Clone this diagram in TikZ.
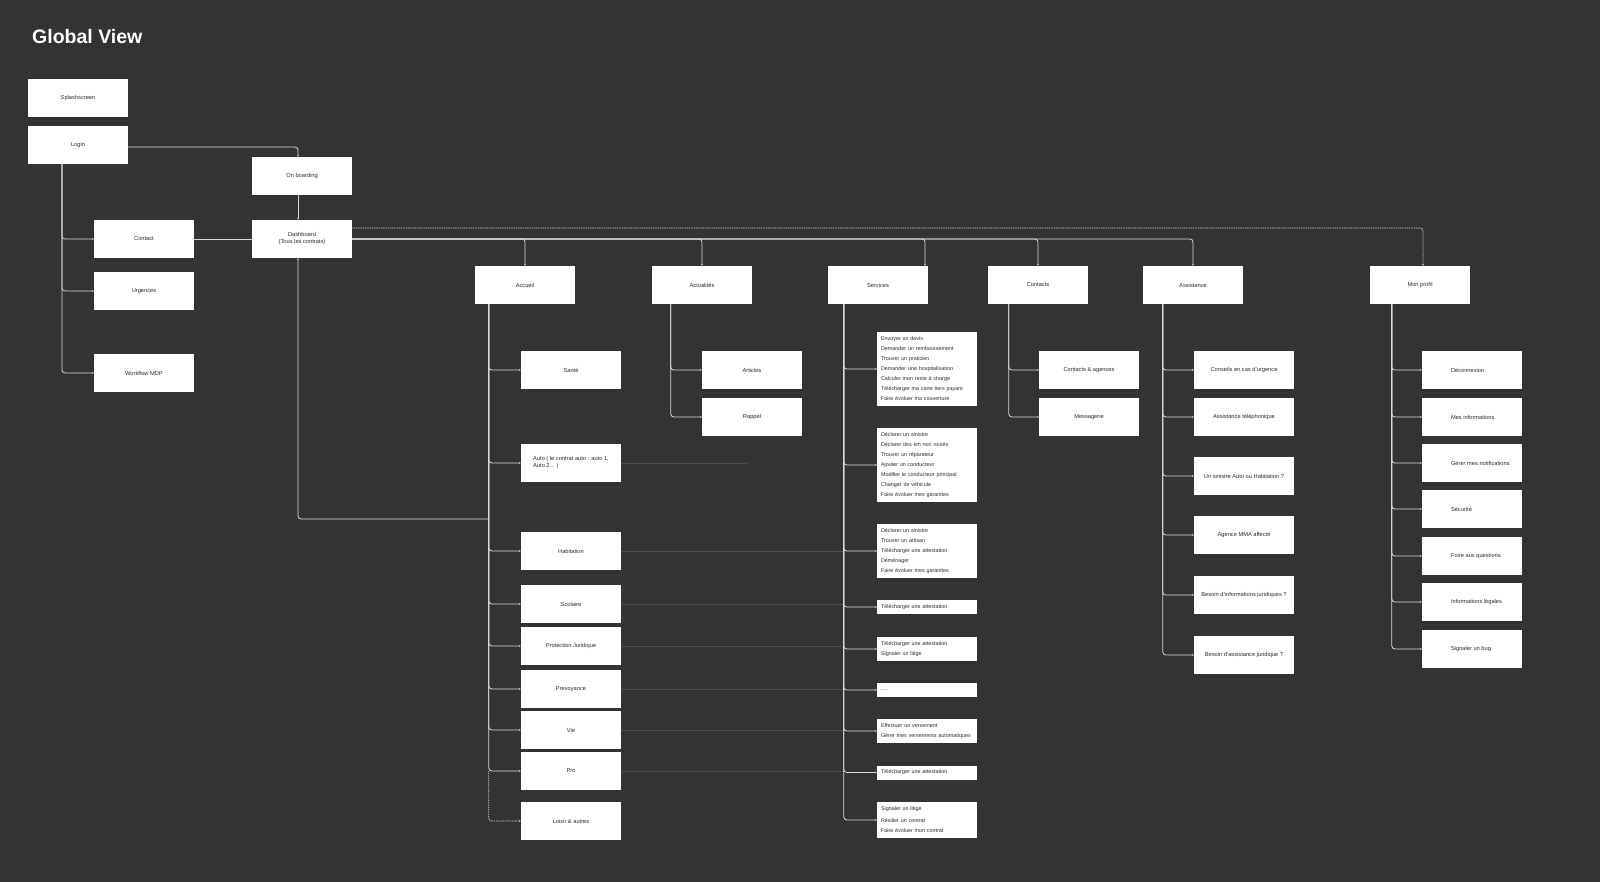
\documentclass[tikz,border=0pt]{standalone}
\usepackage{fontspec}
\setmainfont{Liberation Sans}
\usetikzlibrary{arrows.meta,calc}
\definecolor{bg}{HTML}{333333}
\definecolor{ln}{HTML}{DADADA}
\definecolor{faint}{HTML}{4D4D4D}
\definecolor{txt}{HTML}{2A2A2A}
\newcommand{\pleft}[1]{\makebox[42pt][l]{#1}}
\tikzset{
 box/.style={fill=white,draw=none,minimum width=100pt,minimum height=38pt,inner sep=0pt,font=\fontsize{5.7}{7}\selectfont,text=txt,align=center},
 sublist/.style={fill=white,draw=none,text width=92pt,inner xsep=4pt,inner ysep=0pt,minimum height=#1,font=\fontsize{5.4}{10}\selectfont,text=txt,align=left},
 conn/.style={draw=ln,line width=0.8pt,rounded corners=3pt,-{Latex[length=1.5pt,width=2pt]}},
 dconn/.style={conn,dash pattern=on 1pt off 0.8pt},
 faintln/.style={draw=faint,line width=0.6pt},
}
\begin{document}
\begin{tikzpicture}[x=1pt,y=-1pt]
\path[fill=bg] (0,0) rectangle (1600,882);
\node[anchor=west,text=white,inner sep=0pt,font=\fontsize{19.5}{22}\selectfont\bfseries] (title) at (32,37) {Global View};

% left column
\node[box] (splash) at (78,98) {Splashscreen};
\node[box] (login) at (78,145) {Login};
\node[box] (onb) at (302,176) {On boarding};
\node[box] (dash) at (302,239) {Dashboard\\(Tous les contrats)};
\node[box] (contact) at (144,239) {Contact};
\node[box] (urg) at (144,291) {Urgences};
\node[box] (wmdp) at (144,373) {Workflow MDP};

% top level
\node[box] (accueil) at (525,285) {Accueil};
\node[box] (actu) at (702,285) {Actualités};
\node[box] (serv) at (878,285) {Services};
\node[box] (cont) at (1038,285) {Contacts};
\node[box] (assist) at (1193,285) {Assistance};
\node[box] (profil) at (1420,285) {Mon profil};

% accueil children
\node[box] (sante) at (571,370) {Santé};
\node[box,align=left] (auto) at (571,463) {Auto ( le contrat auto : auto 1,\\Auto 2... )};
\node[box] (habit) at (571,551) {Habitation};
\node[box] (scol) at (571,604) {Scolaire};
\node[box] (pj) at (571,646) {Protection Juridique};
\node[box] (prev) at (571,689) {Prevoyance};
\node[box] (vie) at (571,730) {Vie};
\node[box] (pro) at (571,771) {Pro};
\node[box] (loisir) at (571,821) {Loisir \& autres};

% actualites children
\node[box] (articles) at (752,370) {Articles};
\node[box] (rappel) at (752,417) {Rappel};

% services children
\node[sublist=74pt] (s1) at (927,369) {Envoyer un devis\\Demander un remboursement\\Trouver un praticien\\Demander une hospitalisation\\Calculer mon reste à charge\\Télécharger ma carte tiers payant\\Faire évoluer ma couverture};
\node[sublist=74pt] (s2) at (927,465) {Déclarer un sinistre\\Déclarer des km non roulés\\Trouver un réparateur\\Ajouter un conducteur\\Modifier le conducteur principal\\Changer de véhicule\\Faire évoluer mes garanties};
\node[sublist=54pt] (s3) at (927,551) {Déclarer un sinistre\\Trouver un artisan\\Télécharger une attestation\\Déménager\\Faire évoluer mes garanties};
\node[sublist=14pt] (s4) at (927,607) {Télécharger une attestation};
\node[sublist=24pt] (s5) at (927,649) {Télécharger une attestation\\Signaler un litige};
\node[sublist=14pt] (s6) at (927,690) {....};
\node[sublist=24pt] (s7) at (927,731) {Effectuer un versement\\Gérer mes versements automatiques};
\node[sublist=14pt] (s8) at (927,772.5) {Télécharger une attestation};
\node[sublist=36pt] (s9) at (927,820) {Signaler un litige\\[2pt]Résilier un contrat\\Faire évoluer mon contrat};

% contacts children
\node[box] (ca) at (1089,370) {Contacts \& agences};
\node[box] (msg) at (1089,417) {Messagerie};

% assistance children
\node[box] (a1) at (1244,370) {Conseils en cas d'urgence};
\node[box] (a2) at (1244,417) {Assistance téléphonique};
\node[box] (a3) at (1244,476) {Un sinistre Auto ou Habitation ?};
\node[box] (a4) at (1244,535) {Agence MMA affecté};
\node[box] (a5) at (1244,595) {Besoin d'informations juridiques ?};
\node[box] (a6) at (1244,655) {Besoin d'assistance juridique ?};

% profil children
\node[box] (p1) at (1472,370) {\pleft{Déconnexion}};
\node[box] (p2) at (1472,417) {\pleft{Mes informations}};
\node[box] (p3) at (1472,463) {\pleft{Gérer mes notifications}};
\node[box] (p4) at (1472,509) {\pleft{Sécurité}};
\node[box] (p5) at (1472,556) {\pleft{Foire aux questions}};
\node[box] (p6) at (1472,602) {\pleft{Informations légales}};
\node[box] (p7) at (1472,649) {\pleft{Signaler un bug}};

% trunk coordinates
\coordinate (ltr) at ([xshift=-16pt]login.south);
\coordinate (atr) at ([xshift=14pt]accueil.south west);
\coordinate (actr) at ([xshift=19pt]actu.south west);
\coordinate (str) at ([xshift=16pt]serv.south west);
\coordinate (ctr) at ([xshift=21pt]cont.south west);
\coordinate (astr) at ([xshift=20pt]assist.south west);
\coordinate (ptr) at ([xshift=22pt]profil.south west);
\coordinate (dj) at (489,519);
\coordinate (autoend) at (747,463);

% faint cross lines
\draw[faintln] (auto.east) -- (autoend);
\fill[faint] (autoend) circle (1.2pt);
\foreach \n in {habit,scol,pj,prev,vie,pro}{\draw[faintln] (\n.east) -- (str |- \n.east);}

% left connectors
\foreach \n in {contact,urg,wmdp}{\draw[conn] (ltr) |- (\n.west);}
\draw[conn] ([yshift=-2pt]login.east) -| ([xshift=-4pt]onb.north);
\draw[conn] ([xshift=-4pt]onb.south) -- ([xshift=-4pt]dash.north);
\draw[conn,-] (contact.east) -- (dash.west);
\draw[conn] (dj) -| ([xshift=-4pt]dash.south);

% dashboard to sections
\draw[conn] (dash.east) -| (accueil.north);
\draw[conn] (dash.east) -| (actu.north);
\draw[conn] (dash.east) -| ([xshift=47pt]serv.north);
\draw[conn] (dash.east) -| (cont.north);
\draw[conn] (dash.east) -| (assist.north);
\draw[dconn] ([yshift=11pt]dash.east) -| ([xshift=3pt]profil.north);

% accueil
\foreach \n in {sante,auto,habit,scol,pj,prev,vie,pro}{\draw[conn] (atr) |- (\n.west);}
\draw[dconn] (atr |- pro.west) |- (loisir.west);

% actualites
\foreach \n in {articles,rappel}{\draw[conn] (actr) |- (\n.west);}

% services
\foreach \n in {s1,s2,s3,s4,s5,s6,s7,s8,s9}{\draw[conn] (str) |- (\n.west);}

% contacts
\foreach \n in {ca,msg}{\draw[conn] (ctr) |- (\n.west);}

% assistance
\foreach \n in {a1,a2,a3,a4,a5,a6}{\draw[conn] (astr) |- (\n.west);}

% profil
\foreach \n in {p1,p2,p3,p4,p5,p6,p7}{\draw[conn] (ptr) |- (\n.west);}
\end{tikzpicture}
\end{document}
